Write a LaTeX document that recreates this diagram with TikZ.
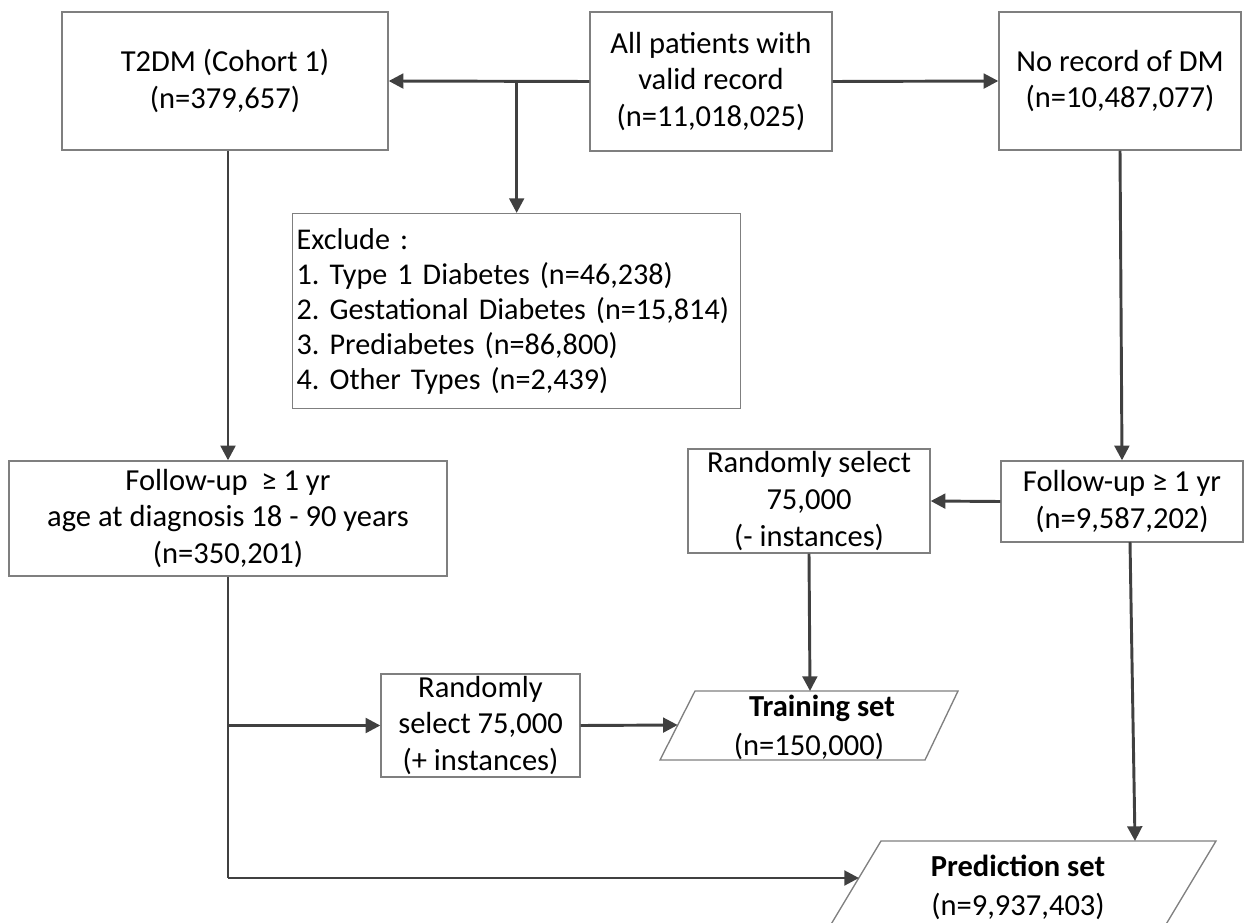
\documentclass[tikz,border=0pt]{standalone}
\usepackage{fontspec}
\setmainfont{Carlito}
\usetikzlibrary{arrows.meta,calc}
\definecolor{linec}{HTML}{404040}
\definecolor{boxc}{HTML}{7F7F7F}
\begin{document}
\begin{tikzpicture}[x=0.75pt,y=-0.75pt,
  box/.style={draw=boxc,line width=1pt,inner sep=0pt,align=center,
    font=\fontsize{22.9}{27.4}\selectfont\frenchspacing},
  conn/.style={draw=linec,line width=2.2pt},
  arr/.style={conn,-{Triangle[length=11pt,width=11pt]}},
  lbl/.style={inner sep=0pt,align=center,font=\fontsize{22.9}{29}\selectfont}]
\useasboundingbox (0,0) rectangle (1245,923);
\clip (0,0) rectangle (1245,923);
% boxes
\node[box,minimum width=244.5pt,minimum height=103.5pt] (t2dm) at (225,81) {T2DM (Cohort 1)\\(n=379,657)};
\node[box,minimum width=181.5pt,minimum height=104.25pt] (all) at (711,81.5) {All patients with\\valid record\\(n=11,018,025)};
\node[box,minimum width=181.5pt,minimum height=103.5pt] (norec) at (1120,81) {No record of DM\\(n=10,487,077)};
\node[box,anchor=north west,text width=330pt,minimum height=146.25pt,inner xsep=3pt,align=left,
  font=\fontsize{22.6}{26.25}\selectfont\frenchspacing] (excl) at (292,213)
  {Exclude :\\1. Type 1 Diabetes (n=46,238)\\2. Gestational Diabetes (n=15,814)\\3. Prediabetes (n=86,800)\\4. Other Types (n=2,439)};
\node[box,minimum width=328.5pt,minimum height=86.25pt] (fu1) at (228,518.5) {Follow-up~~≥ 1 yr\\age at diagnosis 18 - 90 years\\(n=350,201)};
\node[box,minimum width=149.25pt,minimum height=77.25pt] (rp) at (480.5,725.5) {Randomly\\select 75,000\\(+ instances)};
\node[box,minimum width=181.5pt,minimum height=78pt] (rn) at (809,501) {Randomly select\\75,000\\(- instances)};
\node[box,minimum width=181.5pt,minimum height=60.75pt] (fu2) at (1122,501.5) {Follow-up ≥ 1 yr\\(n=9,587,202)};
% parallelograms
\node[lbl] (train) at (809,727.5) {\hspace*{19.5pt}\textbf{Training set}\\(n=150,000)};
\node[lbl] (pred) at (1018,887.5) {\textbf{Prediction set}\\(n=9,937,403)};
\draw[draw=boxc,line width=1pt] (695,691) -- (958,691) -- (925,760) -- (660,760) -- cycle;
\draw[draw=boxc,line width=1pt] (881,841) -- (1216,841) -- (1156,941) -- (821,941) -- cycle;
\coordinate (traintop) at (810,691);
\coordinate (trainleft) at (677.7,725);
\coordinate (predtop) at (1135,841);
\coordinate (predleft) at (859,878);
\coordinate (fu2bot) at (1130,542);
\coordinate (brA) at (excl.north |- all.west);
\coordinate (brB) at (fu1.south |- rp.west);
\coordinate (brC) at (fu1.south |- predleft);
% connectors
\draw[arr] (all.west) -- (t2dm.east);
\draw[arr] (brA) -- (excl.north);
\draw[arr] (all.east) -- (norec.west);
\draw[arr] (fu1.north |- t2dm.south) -- (fu1.north);
\draw[arr] (norec.south) -- (fu2.north);
\draw[arr] (fu2.west) -- (rn.east);
\draw[arr] (rn.south) -- (traintop);
\draw[arr] (rp.east) -- (trainleft);
\draw[conn] (fu1.south) -- (brC);
\draw[arr] (brB) -- (rp.west);
\draw[arr] (brC) -- (predleft);
\draw[arr] (fu2bot) -- (predtop);
\end{tikzpicture}
\end{document}
